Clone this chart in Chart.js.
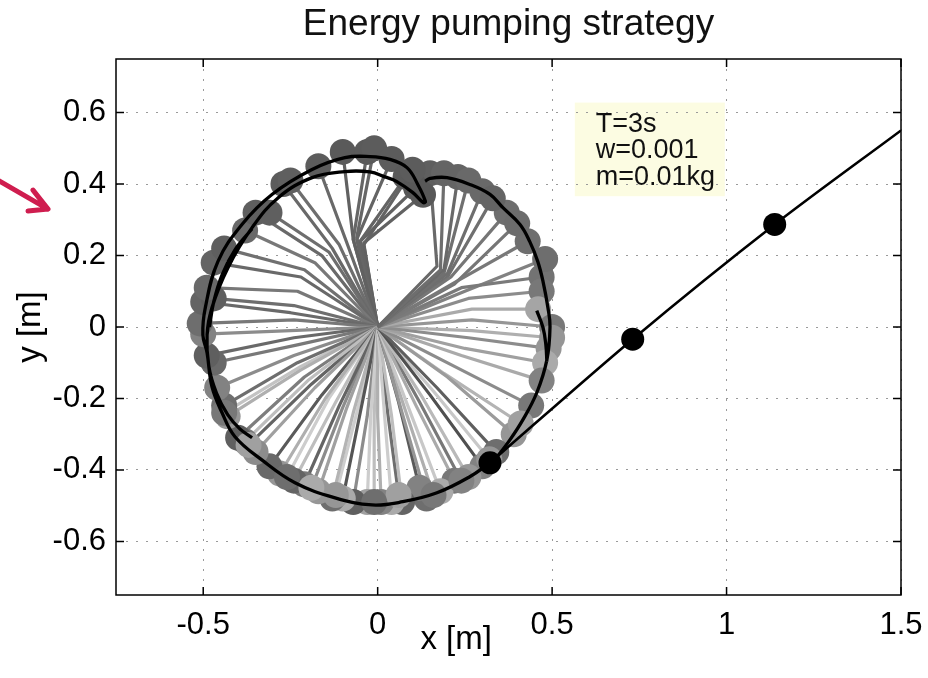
<!DOCTYPE html>
<html>
<head>
<meta charset="utf-8">
<title>Energy pumping strategy</title>
<script src="https://cdn.jsdelivr.net/npm/chart.js@4.4.1/dist/chart.umd.min.js"></script>
<style>
  html, body { margin: 0; padding: 0; background: #fff; }
</style>
</head>
<body>
<canvas id="pump" width="928" height="678"></canvas>
<script>
const FONT = "'Liberation Sans', Arial, Helvetica, sans-serif";

// axis ticks
const xTicks = [-0.5, 0, 0.5, 1, 1.5];
const xTickLabels = ['-0.5', '0', '0.5', '1', '1.5'];
const yTicks = [-0.6, -0.4, -0.2, 0, 0.2, 0.4, 0.6];
const yTickLabels = ['-0.6', '-0.4', '-0.2', '0', '0.2', '0.4', '0.6'];

// shoulder of the arm [m]
const shoulderX = 0;
const shoulderY = 0;

// arm snapshots: elbow and hand (ball) positions [m]
const elbowX = [0.17, 0.18, 0.19, 0.19, 0.20, 0.21, 0.23, 0.24, 0.26, 0.27, 0.27, 0.26, 0.25, 0.24, 0.22, 0.20,
  0.17, 0.15, 0.13, 0.11, 0.09, 0.07, 0.06, 0.04, 0.02, 0.00, -0.02, -0.03, -0.05, -0.07, -0.09, -0.11,
  -0.12, -0.15, -0.16, -0.18, -0.20, -0.21, -0.22, -0.23, -0.24, -0.23, -0.24, -0.25, -0.24, -0.25, -0.24, -0.23,
  -0.22, -0.21, -0.18, -0.16, -0.14, -0.13, -0.11, -0.09, -0.07, -0.07, -0.06, -0.06, -0.05, -0.05, -0.04, -0.04,
  0.19, 0.16, 0.12, 0.08, 0.03, -0.01, -0.06, -0.10, -0.14, -0.19, -0.22, 0.25, 0.22, 0.20, 0.27];
const elbowY = [0.17, 0.16, 0.16, 0.15, 0.15, 0.14, 0.13, 0.11, 0.08, 0.05, 0.02, -0.03, -0.06, -0.08, -0.11, -0.14,
  -0.17, -0.19, -0.20, -0.22, -0.23, -0.24, -0.21, -0.25, -0.25, -0.25, -0.25, -0.25, -0.24, -0.24, -0.23, -0.22,
  -0.21, -0.20, -0.19, -0.17, -0.15, -0.14, -0.12, -0.10, -0.08, -0.05, -0.03, -0.01, 0.02, 0.04, 0.06, 0.10,
  0.14, 0.16, 0.18, 0.20, 0.21, 0.22, 0.23, 0.24, 0.245, 0.245, 0.25, 0.245, 0.24, 0.24, 0.235, 0.23,
  -0.13, -0.18, -0.21, -0.235, -0.25, -0.25, -0.24, -0.225, -0.20, -0.16, -0.11, 0.10, 0.12, 0.14, -0.01];
const handX = [0.15, 0.19, 0.23, 0.26, 0.30, 0.37, 0.43, 0.47, 0.47, 0.46, 0.50, 0.49, 0.48, 0.47, 0.44, 0.39,
  0.34, 0.30, 0.26, 0.22, 0.18, 0.14, 0.12, 0.07, 0.04, 0.01, -0.03, -0.07, -0.10, -0.13, -0.17, -0.21,
  -0.24, -0.28, -0.31, -0.35, -0.38, -0.40, -0.43, -0.44, -0.46, -0.47, -0.49, -0.50, -0.51, -0.50, -0.47, -0.49,
  -0.47, -0.44, -0.38, -0.35, -0.31, -0.27, -0.25, -0.17, -0.10, -0.03, -0.01, 0.04, 0.08, 0.11, 0.13, 0.10,
  0.41, 0.32, 0.24, 0.16, 0.06, -0.01, -0.12, -0.19, -0.26, -0.37, -0.44, 0.48, 0.40, 0.33, 0.50];
const handY = [0.43, 0.43, 0.42, 0.41, 0.38, 0.32, 0.24, 0.14, 0.10, 0.05, 0.00, -0.06, -0.10, -0.15, -0.22, -0.30,
  -0.35, -0.39, -0.42, -0.43, -0.46, -0.48, -0.45, -0.49, -0.49, -0.49, -0.49, -0.49, -0.48, -0.48, -0.46, -0.44,
  -0.43, -0.41, -0.39, -0.35, -0.32, -0.31, -0.25, -0.22, -0.17, -0.10, -0.08, -0.02, 0.01, 0.07, 0.08, 0.11,
  0.18, 0.22, 0.27, 0.32, 0.32, 0.40, 0.41, 0.45, 0.49, 0.49, 0.50, 0.47, 0.42, 0.39, 0.37, 0.44,
  -0.27, -0.37, -0.43, -0.47, -0.47, -0.49, -0.47, -0.45, -0.42, -0.33, -0.24, 0.19, 0.29, 0.36, -0.03];
// grey level (0-255) of each link and of each ball
const armShade = [105, 110, 105, 112, 110, 118, 120, 122, 140, 170, 150, 140, 160, 170, 140, 155,
  95, 80, 185, 170, 200, 150, 90, 190, 205, 175, 205, 140, 85, 180, 160, 100,
  190, 175, 90, 160, 190, 125, 175, 110, 140, 120, 105, 140, 120, 105, 110, 120,
  105, 112, 120, 105, 110, 105, 110, 105, 97, 102, 102, 100, 100, 98, 98, 100,
  180, 200, 120, 175, 110, 190, 205, 140, 205, 100, 195, 130, 118, 112, 175];
const ballShade = [95, 100, 100, 105, 105, 110, 110, 115, 120, 165, 120, 150, 170, 130, 120, 150,
  110, 130, 150, 120, 170, 110, 130, 100, 170, 130, 160, 95, 170, 110, 150, 120,
  100, 150, 105, 140, 120, 95, 150, 110, 130, 105, 95, 130, 110, 100, 95, 105,
  100, 95, 105, 95, 95, 92, 95, 92, 90, 90, 92, 92, 90, 88, 88, 92,
  160, 150, 130, 120, 160, 110, 150, 170, 110, 160, 120, 110, 108, 100, 150];

// ball path while it is swung round (null splits the strokes)
const trailX = [-0.360, -0.395, -0.430, -0.462, -0.484, -0.489, -0.475, -0.429, -0.360, -0.285, -0.188, -0.094, -0.022, 0.021, 0.055, 0.101, 0.131,
  0.137, 0.115, 0.084, 0.035, -0.022, -0.094, -0.188, -0.303, -0.389, -0.458, -0.494, -0.501, -0.489, -0.475, -0.446, -0.409, -0.332, -0.237, -0.122, -0.016, 0.072, 0.170, 0.264, 0.322,
  null,
  -0.360, -0.409, -0.446, -0.470, -0.482,
  null,
  0.136, 0.150, 0.199, 0.264, 0.322, 0.359, 0.408, 0.436, 0.459, 0.474, 0.488, 0.494, 0.485, 0.456, 0.416, 0.379, 0.342, 0.322,
  null,
  0.456, 0.474, 0.482, 0.485];
const trailY = [-0.310, -0.285, -0.245, -0.185, -0.110, -0.022, 0.054, 0.166, 0.278, 0.362, 0.418, 0.435, 0.434, 0.420, 0.407, 0.376, 0.348,
  0.351, 0.399, 0.446, 0.469, 0.477, 0.474, 0.441, 0.371, 0.287, 0.183, 0.054, -0.022, -0.072, -0.167, -0.240, -0.307, -0.372, -0.436, -0.478, -0.498, -0.489, -0.464, -0.419, -0.380,
  null,
  0.275, 0.216, 0.146, 0.070, 0.000,
  null,
  0.408, 0.416, 0.418, 0.399, 0.371, 0.334, 0.287, 0.239, 0.183, 0.127, 0.054, 0.001, -0.092, -0.184, -0.260, -0.316, -0.363, -0.380,
  null,
  0.046, -0.002, -0.049, -0.097];

// free flight after release, and the ball at three instants
const flightX = [0.322, 0.731, 1.138, 1.5];
const flightY = [-0.380, -0.034, 0.287, 0.55];
const markX = [0.322, 0.731, 1.138];
const markY = [-0.380, -0.034, 0.287];

const noteLines = ['T=3s', 'w=0.001', 'm=0.01kg'];
const xAxisLabel = 'x [m]';

const grey = v => `rgb(${v},${v},${v})`;
const pts = (xs, ys) => xs.map((x, i) => ({ x: x, y: ys[i] }));

const armSets = handX.map((hx, i) => ({
  data: [{ x: shoulderX, y: shoulderY }, { x: elbowX[i], y: elbowY[i] }, { x: hx, y: handY[i] }],
  showLine: true,
  borderColor: grey(armShade[i]),
  borderWidth: 3.2,
  borderJoinStyle: 'round',
  tension: 0,
  pointRadius: 0,
  order: 4
}));

// note box, frame with inward ticks, x label and the pointer arrow
const decor = {
  id: 'decor',
  beforeDraw(chart) {
    const { ctx, scales: { x, y } } = chart;
    const l = x.getPixelForValue(0.565), r = x.getPixelForValue(0.995);
    const t = y.getPixelForValue(0.628), b = y.getPixelForValue(0.366);
    ctx.save();
    ctx.fillStyle = '#fcfce2';
    ctx.fillRect(l, t, r - l, b - t);
    ctx.fillStyle = '#111';
    ctx.font = `27px ${FONT}`;
    ctx.textBaseline = 'alphabetic';
    [29, 55, 82].forEach((dy, i) => ctx.fillText(noteLines[i], l + 21, t + dy));
    ctx.restore();
  },
  afterDatasetsDraw(chart) {
    const { ctx, chartArea: a, scales: { x, y } } = chart;
    const tick = 8;
    ctx.save();
    ctx.strokeStyle = '#000';
    ctx.lineWidth = 1.5;
    ctx.strokeRect(a.left, a.top, a.right - a.left, a.bottom - a.top);
    ctx.beginPath();
    xTicks.forEach(v => {
      const px = x.getPixelForValue(v);
      ctx.moveTo(px, a.bottom); ctx.lineTo(px, a.bottom - tick);
      ctx.moveTo(px, a.top); ctx.lineTo(px, a.top + tick);
    });
    yTicks.forEach(v => {
      const py = y.getPixelForValue(v);
      ctx.moveTo(a.left, py); ctx.lineTo(a.left + tick, py);
      ctx.moveTo(a.right, py); ctx.lineTo(a.right - tick, py);
    });
    ctx.stroke();
    ctx.restore();
  },
  afterDraw(chart) {
    const { ctx, chartArea: a, scales: { x, y } } = chart;
    ctx.save();
    // x label sits between the 0 and 0.5 tick labels
    ctx.fillStyle = '#000';
    ctx.font = `33px ${FONT}`;
    ctx.textAlign = 'center';
    ctx.textBaseline = 'middle';
    ctx.fillText(xAxisLabel, x.getPixelForValue(0.225), a.bottom + 45);

    const tx = a.left - 68, ty = y.getPixelForValue(0.33);
    ctx.strokeStyle = '#cf1d4f';
    ctx.lineWidth = 5;
    ctx.lineCap = 'round';
    ctx.lineJoin = 'round';
    ctx.beginPath();
    ctx.moveTo(tx - 52, ty - 30); ctx.lineTo(tx, ty);
    ctx.moveTo(tx - 15, ty - 19); ctx.lineTo(tx, ty); ctx.lineTo(tx - 20, ty + 2);
    ctx.stroke();
    ctx.restore();
  }
};

new Chart(document.getElementById('pump'), {
  type: 'scatter',
  data: {
    datasets: [
      {
        data: pts(markX, markY),
        pointRadius: 11.5,
        pointBackgroundColor: '#000',
        pointBorderWidth: 0,
        order: 0
      },
      {
        data: pts(flightX, flightY),
        showLine: true,
        borderColor: '#000',
        borderWidth: 2.6,
        tension: 0.3,
        pointRadius: 0,
        order: 1
      },
      {
        data: pts(trailX, trailY),
        showLine: true,
        spanGaps: false,
        borderColor: '#000',
        borderWidth: 3.3,
        tension: 0.4,
        pointRadius: 0,
        order: 2
      },
      {
        data: pts(handX, handY),
        pointRadius: 13,
        pointBackgroundColor: ballShade.map(grey),
        pointBorderWidth: 0,
        order: 3
      },
      ...armSets
    ]
  },
  options: {
    responsive: false,
    animation: false,
    events: [],
    layout: { padding: { left: 0, right: 27, top: 0, bottom: 0 } },
    plugins: {
      legend: { display: false },
      tooltip: { enabled: false },
      title: {
        display: true,
        text: 'Energy pumping strategy',
        fullSize: false,
        color: '#111',
        font: { family: FONT, size: 37, weight: 'normal' },
        padding: { top: 3, bottom: 11.6 }
      }
    },
    scales: {
      x: {
        type: 'linear',
        min: -0.75,
        max: 1.5,
        afterBuildTicks: s => { s.ticks = xTicks.map(v => ({ value: v })); },
        afterFit: s => { s.height = 83; s.paddingLeft = 0; s.paddingRight = 0; },
        ticks: {
          color: '#000',
          font: { family: FONT, size: 31 },
          padding: 12,
          maxRotation: 0,
          autoSkip: false,
          callback: v => xTickLabels[xTicks.indexOf(v)]
        },
        grid: { color: '#9a9a9a', lineWidth: 1, drawTicks: false },
        border: { display: false, dash: [2, 8] }
      },
      y: {
        type: 'linear',
        min: -0.75,
        max: 0.75,
        afterBuildTicks: s => { s.ticks = yTicks.map(v => ({ value: v })); },
        afterFit: s => { s.width = 116; },
        ticks: {
          color: '#000',
          font: { family: FONT, size: 31 },
          padding: 10,
          autoSkip: false,
          callback: v => yTickLabels[yTicks.indexOf(v)]
        },
        grid: { color: '#9a9a9a', lineWidth: 1, drawTicks: false },
        border: { display: false, dash: [2, 8] },
        title: {
          display: true,
          text: 'y [m]',
          color: '#000',
          font: { family: FONT, size: 33 },
          padding: { top: 11, bottom: 0 }
        }
      }
    }
  },
  plugins: [decor]
});
</script>
</body>
</html>
